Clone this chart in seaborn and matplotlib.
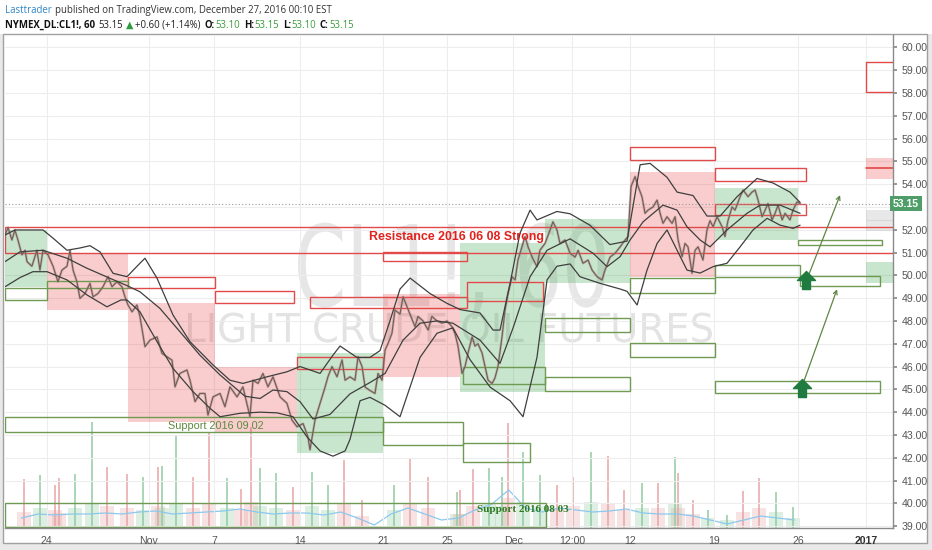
import matplotlib
matplotlib.use("Agg")
import matplotlib.pyplot as plt
import seaborn as sns
from matplotlib.patches import Rectangle, PathPatch
from matplotlib.path import Path
from matplotlib.textpath import TextPath
from matplotlib.font_manager import FontProperties
from matplotlib.transforms import Affine2D, blended_transform_factory

# ---------------- data (x = trading-session days since Mon 24 Oct 2016) ----------------
price_x_oct = [-2.48,-2.30,-2.07,-1.89,-1.71,-1.47,-1.29,-1.17,-0.88,-0.58,-0.40,-0.22,0.08,0.38,0.67,0.91,1.21,1.39,1.57,1.80,
               1.98,2.28,2.58,2.76,3.05,3.35,3.65,3.89,4.18,4.48,4.66,4.84]
price_y_oct = [51.77,52.1,51.55,51.99,51.55,50.9,51.1,50.6,50.4,51.1,50.23,51.1,50.9,50.4,49.72,50.23,50.4,51.1,50.23,49.72,
               48.99,49.2,49.65,49.06,49.2,49.5,49.94,49.5,49.72,49.5,49.06,48.7]
price_x_nov1 = [5.08,5.37,5.55,5.85,6.15,6.57,6.86,7.16,7.46,7.64,7.93,8.35,8.53,8.83,9.12,9.42,9.60,9.90,10.32,10.61,
                10.91,11.33,11.68,12.10,12.28,12.58,12.87,13.17,13.47,13.89,14.30,14.60,14.90,15.26,15.55,15.67,15.97,16.15]
price_y_nov1 = [48.4,48.7,48.2,46.87,47.16,47.3,46.58,46.43,46.28,45.11,45.7,45.85,45.4,44.46,44.82,44.82,43.87,44.67,44.82,44.24,
                45.11,44.67,45.11,43.8,45.4,45.26,45.7,45.11,45.55,44.67,44.39,43.65,43.36,43.5,42.92,42.35,43.65,44.1]
price_x_nov2 = [16.39,16.57,16.74,16.98,17.28,17.58,17.76,18.05,18.35,18.53,18.77,18.95,19.24,19.54,19.72,19.96,20.14,20.31,20.55,20.73,
                21.03,21.21,21.45,21.63,21.92,22.10,22.40,22.70,22.93,23.23,23.53,23.83,24.12,24.30,24.48,24.72,24.90,25.08,25.32,25.49,
                25.67,25.91,26.09,26.27,26.51,26.68,26.86,27.10,27.28,27.46,27.70,27.88,28.05,28.29,28.47,28.65,28.89,29.18,29.36,29.66,
                29.96,30.13,30.37]
price_y_nov2 = [44.67,45.1,45.55,46.0,45.55,46.29,45.4,45.55,45.4,46.43,46.0,45.1,44.95,44.82,45.7,45.4,46.72,47.0,47.46,48.48,
                48.3,49.06,48.62,48.3,47.75,48.2,48.0,47.6,48.2,48.0,47.9,48.0,47.75,47.45,46.9,45.7,46.0,46.6,47.3,46.9,
                47.0,46.6,46.0,45.4,45.26,45.5,46.0,47.3,48.48,49.2,49.94,49.8,50.67,51.25,51.7,51.25,50.8,50.38,51.1,51.4,
                51.99,52.35,51.99]
price_x_dec = [30.55,30.85,31.15,31.45,31.63,31.92,32.22,32.46,32.76,33.05,33.23,33.53,33.83,34.13,34.42,34.60,34.78,35.02,35.20,35.43,
               35.61,35.79,36.09,36.33,36.51,36.68,36.92,37.22,37.40,37.58,37.82,37.99,38.17,38.41,38.59,38.77,39.06,39.30,39.48,39.66,
               39.90,40.20,40.37,40.55,40.79,40.97,41.27,41.45,41.74,41.98,42.16,42.34,42.58,42.76,42.93,43.17,43.35,43.53,43.77,43.95,
               44.24,44.42,44.66,44.84]
price_y_dec = [51.4,51.55,50.97,50.8,51.1,50.53,50.67,50.23,49.94,49.8,50.23,50.8,50.97,51.25,51.55,51.7,53.9,54.33,53.9,53.45,
               52.72,52.86,53.0,53.3,52.72,52.28,52.57,52.28,52.57,51.55,50.82,51.4,51.25,50.09,51.1,51.25,50.67,51.99,52.4,52.13,
               52.57,52.13,51.7,52.4,53.0,52.86,53.45,53.74,53.45,53.65,53.74,53.3,52.57,52.86,53.15,52.43,52.72,53.08,52.43,52.72,
               52.43,52.86,53.22,53.15]

bb_up_x = [-2.48,-1.89,-0.22,0.38,1.21,1.98,2.58,3.17,3.95,4.78,5.55,5.85,6.57,7.52,8.53,9.90,10.91,11.68,13.11,14.30,
           15.08,16.27,17.04,17.46,18.47,19.24,19.84,20.43,21.03,21.63,22.82,23.83,24.60,25.79,26.57,26.98,27.58,28.17,28.77,29.18,
           30.37,31.15,32.33,33.52,34.54,35.32,35.91,36.92,37.52,38.47,39.30,40.08,41.09,42.28,43.23,44.24,44.84]
bb_up_y = [51.77,51.99,51.99,51.63,51.1,51.2,51.3,51.03,50.09,49.94,50.53,50.75,49.87,48.26,47.09,46.07,45.4,45.26,45.55,45.77,
           46.0,45.7,46.5,46.9,46.4,46.4,46.7,48.0,49.4,49.88,49.2,48.77,48.5,48.35,47.6,47.6,49.65,51.85,52.86,52.43,
           52.8,52.7,52.2,51.35,51.5,54.85,54.91,54.3,53.65,53.5,52.6,52.6,53.45,54.25,54.05,53.65,53.2]
bb_mid_x = [-2.48,-1.59,-0.22,1.21,2.40,3.77,4.78,5.55,6.74,7.93,9.12,10.32,10.91,11.80,12.70,13.47,14.30,15.08,15.85,16.86,
            18.05,19.24,20.14,21.21,22.22,23.23,24.18,25.79,26.98,27.76,28.77,29.78,31.15,32.52,33.35,34.13,34.72,35.50,36.68,37.52,
            38.11,38.89,39.48,40.49,41.68,42.46,43.65,44.84]
bb_mid_y = [50.6,51.03,51.1,50.75,50.31,49.87,49.55,49.28,48.55,47.53,46.5,45.63,45.26,44.7,44.6,44.97,44.9,44.46,43.7,43.9,
            44.8,45.3,45.7,47.16,47.9,48.0,47.9,47.16,46.14,47.7,49.94,51.1,51.6,50.97,50.38,50.82,51.55,52.35,53.08,52.86,
            52.13,51.55,51.25,51.99,52.72,53.08,53.08,52.72]
bb_lo_x = [-2.48,-1.59,-0.82,0.02,1.21,2.40,3.59,4.42,4.78,5.55,6.57,7.52,8.71,9.72,10.32,11.51,12.70,13.71,14.66,15.49,
           16.27,17.04,17.76,18.05,18.65,19.24,20.14,21.03,22.22,23.23,24.18,25.20,26.39,27.58,28.35,29.18,29.78,30.37,31.15,31.74,
           32.93,34.13,34.54,35.14,35.73,36.33,36.92,37.52,38.11,38.89,39.66,40.49,41.27,42.04,42.88,43.65,44.43,44.84]
bb_lo_y = [49.5,49.9,50.16,50.16,49.8,49.14,48.62,48.92,48.92,48.4,47.09,45.92,44.9,44.17,43.8,43.95,44.0,43.97,43.8,42.92,
           42.3,42.07,42.3,42.8,44.5,44.65,44.3,43.8,46.4,47.46,47.7,46.3,45.1,44.5,43.8,46.4,49.8,50.4,50.5,49.94,
           49.65,49.4,49.3,48.7,50.23,51.4,51.99,51.1,50.23,50.1,50.38,50.53,51.25,51.99,52.5,52.2,52.06,52.2]

vol_x = [-1.35,-0.40,0.49,0.73,1.68,2.70,3.59,4.78,5.73,6.62,6.86,7.70,8.71,9.66,10.73,11.57,12.16,12.70,13.65,14.66,
         15.79,16.74,17.70,18.77,20.68,21.63,22.70,24.42,24.60,25.38,26.33,27.10,27.46,28.35,29.36,30.37,31.33,32.40,33.41,34.36,
         35.43,36.39,37.40,37.58,38.47,39.36,40.49,41.45,42.40,43.41,44.42]
vol_spike = [49,53,43,50,54,106,61,54,51,61,62,93,51,95,50,39,101,60,55,41,
             56,43,68,28,43,70,51,36,38,59,60,51,105,76,53,43,51,76,72,38,
             45,45,71,55,28,18,13,37,50,36,21]
vol_base = [16,20,18,15,20,24,22,20,18,22,20,25,20,24,20,18,26,22,20,18,
            22,18,24,12,18,24,20,14,14,22,24,22,30,26,22,20,22,26,24,18,
            20,20,24,20,14,10,8,16,20,16,10]
vol_side = list("dudduudduduuddudduuduudduddudduuduudduddududduuddu" + "u")
volma_x = [-1.5,-0.5,0.5,1.5,2.5,3.5,4.5,5.5,6.5,7.5,8.5,9.5,10.5,11.5,12.5,13.5,14.5,15.5,16.5,17.5,
           18.5,19.5,20.5,21.5,22.5,23.5,24.5,25.5,26.5,27.5,28.5,29.5,30.5,31.5,32.5,33.5,34.5,35.5,36.5,37.5,
           38.5,39.5,40.5,41.5,42.5,43.5,44.5]
volma_y = [10,14,13,14,14,15,14,16,17,14,15,16,17,19,16,14,15,15,13,16,
           10,3,14,20,14,8,10,18,24,38,20,16,20,18,16,17,19,15,14,14,
           12,8,4,8,12,10,8]

tick_pos = [0, 6.09, 9.96, 15.08, 20.02, 23.83, 27.76, 31.27, 34.72, 39.72, 44.72, 48.77]
tick_lab = ["24", "Nov", "7", "14", "21", "25", "Dec", "12:00", "12", "19", "26", "2017"]
price_ticks = list(range(39, 61))

pink_zones = [(0.02, 4.84, 48.48, 50.99), (4.84, 10.02, 43.58, 48.77), (10.02, 14.90, 43.10, 45.99),
              (20.02, 24.60, 45.55, 49.20), (34.72, 39.78, 49.94, 54.54), (48.77, 50.40, 54.22, 55.16)]
green_zones = [(-2.50, 0.02, 49.47, 51.99), (14.90, 20.02, 42.19, 46.58), (24.60, 29.66, 44.87, 51.40),
               (29.66, 34.72, 49.65, 52.45), (39.78, 44.70, 51.55, 53.82), (48.77, 50.40, 49.65, 50.57)]
grey_zones = [(48.77, 50.40, 51.96, 52.86)]
red_boxes = [(-2.50, 50.40, 50.99, 52.10), (4.84, 10.02, 49.43, 49.94), (10.02, 14.72, 48.77, 49.33),
             (15.67, 25.00, 48.58, 49.06), (20.02, 25.00, 50.63, 51.03), (25.00, 29.54, 48.89, 49.72),
             (14.90, 20.02, 45.88, 46.43), (34.72, 39.78, 55.06, 55.64), (39.78, 45.20, 54.15, 54.69),
             (39.78, 45.20, 52.63, 53.13), (48.77, 50.40, 58.05, 59.34)]
green_boxes = [(-2.50, 0.02, 48.93, 49.44), (0.02, 4.84, 49.44, 49.73), (-2.50, 20.02, 43.11, 43.80),
               (20.02, 24.78, 42.56, 43.58), (24.78, 28.77, 41.82, 42.63), (24.78, 29.66, 45.23, 45.99),
               (29.66, 34.72, 47.50, 48.11), (29.66, 34.72, 44.94, 45.55), (34.72, 39.78, 49.21, 49.87),
               (34.72, 39.78, 46.40, 47.04), (39.78, 44.84, 49.94, 50.45), (44.84, 49.60, 49.53, 49.98),
               (44.70, 49.70, 51.33, 51.55), (39.78, 49.60, 44.82, 45.38), (-2.50, 29.70, 38.95, 40.00)]
labels = [("Resistance 2016 06 08 Strong", 24.42, 51.68), ("Support 2016 09 02", 10.05, 43.40),
          ("Support 2016 08 03", 28.35, 39.74)]
arrow_marks = [(45.20, 49.79), (44.94, 45.06)]
arrow_lines = [((45.31, 49.94), (47.22, 53.52)), ((45.02, 45.26), (47.04, 49.39))]
last_price = 53.15

price_x = price_x_oct + price_x_nov1 + price_x_nov2 + price_x_dec
price_y = price_y_oct + price_y_nov1 + price_y_nov2 + price_y_dec

# ---------------- styling ----------------
W, H = 932, 550
sns.set_theme(style="white")
plt.rcParams['font.family'] = ['Liberation Sans', 'DejaVu Sans']

fig = plt.figure(figsize=(W / 100, H / 100), dpi=100, facecolor='#e9e9e9')


def px_rect(x0, y0, x1, y1, **kw):
    return Rectangle((x0 / W, 1 - y1 / H), (x1 - x0) / W, (y1 - y0) / H, transform=fig.transFigure, **kw)


fig.patches.append(px_rect(0, 0, W, 34, fc='white', ec='none', zorder=-5))
fig.patches.append(px_rect(3, 34, 927, 543, fc='white', ec='#a0a0a0', lw=1, zorder=-4))

rect = [5 / W, (H - 528) / H, 888 / W, 493 / H]
XL = (-2.48, 50.37)
YL = (38.92, 60.54)

# volume panel (behind)
vax = fig.add_axes(rect, zorder=0)
vax.set_xlim(*XL)
vax.set_ylim(0, 493)
vax.axis('off')
up_c, dn_c = '#8fcaa0', '#e6a3a3'
cols = [up_c if s == 'u' else dn_c for s in vol_side]
cols = (cols + [up_c] * len(vol_x))[:len(vol_x)]
vax.bar(vol_x, vol_base, width=0.8, color=cols, alpha=0.3, linewidth=0)
vax.bar(vol_x, vol_spike, width=0.09, color=cols, alpha=0.75, linewidth=0)
sns.lineplot(x=volma_x, y=volma_y, ax=vax, color='#8cc8ee', lw=0.9, sort=False, estimator=None)

# main price panel
ax = fig.add_axes(rect, zorder=1)
ax.patch.set_alpha(0)
ax.set_xlim(*XL)
ax.set_ylim(*YL)


def watermark(s, x0, x1, cap_top, base, color):
    fp = FontProperties(family='DejaVu Sans')
    tp = TextPath((0, 0), s, size=1, prop=fp)
    ext = tp.get_extents()
    sx = (x1 - x0) / ext.width
    sy = (base - cap_top) / 0.729
    tr = Affine2D().translate(-ext.x0, 0).scale(sx, sy).translate(x0, H - base).scale(0.01) + fig.dpi_scale_trans
    ax.add_artist(PathPatch(tp, fc=color, ec='none', transform=tr, zorder=0.5, clip_on=False))


watermark("CL1!, 60", 298, 605, 224, 306, '#e6e6e6')
watermark("LIGHT CRUDE OIL FUTURES", 188, 712, 313, 342, '#e3e3e3')

for x0, x1, y0, y1 in pink_zones:
    ax.add_patch(Rectangle((x0, y0), x1 - x0, y1 - y0, fc=(0.91, 0.22, 0.22, 0.25), ec='none', zorder=1))
for x0, x1, y0, y1 in green_zones:
    ax.add_patch(Rectangle((x0, y0), x1 - x0, y1 - y0, fc=(0.15, 0.61, 0.22, 0.25), ec='none', zorder=1))
for x0, x1, y0, y1 in grey_zones:
    ax.add_patch(Rectangle((x0, y0), x1 - x0, y1 - y0, fc=(0.5, 0.5, 0.5, 0.18), ec='none', zorder=1))
    ax.plot([x0, x1], [(y0 + y1) / 2] * 2, color='#d8d8d8', lw=0.8, zorder=1.1)
ax.plot([pink_zones[-1][0], pink_zones[-1][1]], [54.69, 54.69], color='#e04848', lw=1.2, zorder=1.2)

for x0, x1, y0, y1 in red_boxes:
    ax.add_patch(Rectangle((x0, y0), x1 - x0, y1 - y0, fill=False, ec='#e24a4a', lw=1.0, zorder=2))
for x0, x1, y0, y1 in green_boxes:
    ax.add_patch(Rectangle((x0, y0), x1 - x0, y1 - y0, fill=False, ec='#6e9a52', lw=1.0, zorder=2))

# price (hourly candles rendered as a jagged line) and bands
sns.lineplot(x=price_x, y=price_y, ax=ax, color='#b08c86', lw=1.8, alpha=0.55, sort=False, estimator=None, zorder=3)
sns.lineplot(x=price_x, y=price_y, ax=ax, color='#6e5d58', lw=0.8, sort=False, estimator=None, zorder=3.1)
for bx, by in [(bb_up_x, bb_up_y), (bb_mid_x, bb_mid_y), (bb_lo_x, bb_lo_y)]:
    sns.lineplot(x=bx, y=by, ax=ax, color='#3f3f3f', lw=0.9, sort=False, estimator=None, zorder=3.2)

ax.axhline(last_price, ls=(0, (1, 2)), color='#9a9a9a', lw=0.8, zorder=2.5)

# labels
ax.text(labels[0][1], labels[0][2], labels[0][0], color='#e2211c', fontsize=8.9, fontweight='bold',
        ha='center', va='center', zorder=5)
ax.text(labels[1][1], labels[1][2], labels[1][0], color='#5d8a3e', fontsize=7.8,
        ha='center', va='center', zorder=5)
ax.text(labels[2][1], labels[2][2], labels[2][0], color='#2f7a22', fontsize=8.0, fontweight='bold',
        family=['Liberation Serif', 'DejaVu Serif'], ha='center', va='center', zorder=5)

# arrows
arrow_path = Path([(-0.22, -0.5), (0.22, -0.5), (0.22, 0.0), (0.5, 0.0), (0.0, 0.5), (-0.5, 0.0),
                   (-0.22, 0.0), (-0.22, -0.5)], closed=True)
for (x0, y0), (x1, y1) in arrow_lines:
    ax.annotate('', xy=(x1, y1), xytext=(x0, y0), zorder=4,
                arrowprops=dict(arrowstyle='->', color='#5f8543', lw=0.9, shrinkA=0, shrinkB=0,
                                mutation_scale=7))
ax.plot([p[0] for p in arrow_marks], [p[1] for p in arrow_marks], ls='none', marker=arrow_path,
        ms=13, color='#1f7b3f', mec='#1f7b3f', zorder=5)

# axes styling
ax.grid(True, color='#ededed', lw=0.8)
ax.set_axisbelow(True)
for side in ['top', 'left']:
    ax.spines[side].set_visible(False)
for side in ['right', 'bottom']:
    ax.spines[side].set_color('#8a8a8a')
    ax.spines[side].set_linewidth(1.0)
ax.yaxis.tick_right()
ax.set_yticks(price_ticks)
# the 53.00 label sits under the last-price marker, as on the original chart
ax.set_yticklabels(["" if v == 53 else f"{v:.2f}" for v in price_ticks])
ax.set_xticks(tick_pos)
ax.set_xticklabels(tick_lab)
ax.tick_params(axis='y', length=3, color='#8a8a8a', labelsize=7.6, labelcolor='#555555', pad=3)
ax.tick_params(axis='x', length=3, color='#8a8a8a', labelsize=7.6, labelcolor='#555555', pad=3)
for t in ax.get_xticklabels():
    if t.get_text() == '2017':
        t.set_fontweight('bold')
        t.set_color('#333333')
ax.set_xlabel('')
ax.set_ylabel('')

ax.text(1.0, last_price, f"{last_price:.2f}", transform=blended_transform_factory(ax.transAxes, ax.transData),
        ha='left', va='center', color='white', fontsize=7.6, fontweight='bold', clip_on=False, zorder=10,
        bbox=dict(boxstyle='square,pad=0.28', fc='#4f9e6a', ec='none'))

# header
renderer = fig.canvas.get_renderer()


def header_line(y_base, parts, target_right, size0=8.0):
    def draw(size):
        arts, x = [], 5.0
        for s, c, w, gap in parts:
            t = fig.text(x / W, 1 - y_base / H, s, color=c, fontweight=w, fontsize=size,
                         family=['Open Sans', 'DejaVu Sans'], ha='left', va='baseline')
            bb = t.get_window_extent(renderer=renderer)
            x = bb.x1 + gap * size / 8.0
            arts.append(t)
        return arts, x
    arts, xe = draw(size0)
    for a in arts:
        a.remove()
    draw(size0 * (target_right - 5) / (xe - 5))


header_line(13, [("Lasttrader", '#2f86c8', 'normal', 3.5),
                 ("published on TradingView.com, December 27, 2016 00:10 EST", '#333333', 'normal', 0)], 332)
g = '#3a9e3a'
header_line(27.5, [("NYMEX_DL:CL1!, 60", '#111111', 'bold', 4), ("53.15", '#222222', 'normal', 3),
                   ("▲", '#2e9c3e', 'normal', 2), ("+0.60 (+1.14%)", '#222222', 'normal', 5),
                   ("O:", '#111111', 'bold', 1), ("53.10", g, 'normal', 4),
                   ("H:", '#111111', 'bold', 1), ("53.15", g, 'normal', 4),
                   ("L:", '#111111', 'bold', 1), ("53.10", g, 'normal', 4),
                   ("C:", '#111111', 'bold', 1), ("53.15", g, 'normal', 0)], 357)

fig.savefig("out.png", dpi=100, facecolor=fig.get_facecolor())
